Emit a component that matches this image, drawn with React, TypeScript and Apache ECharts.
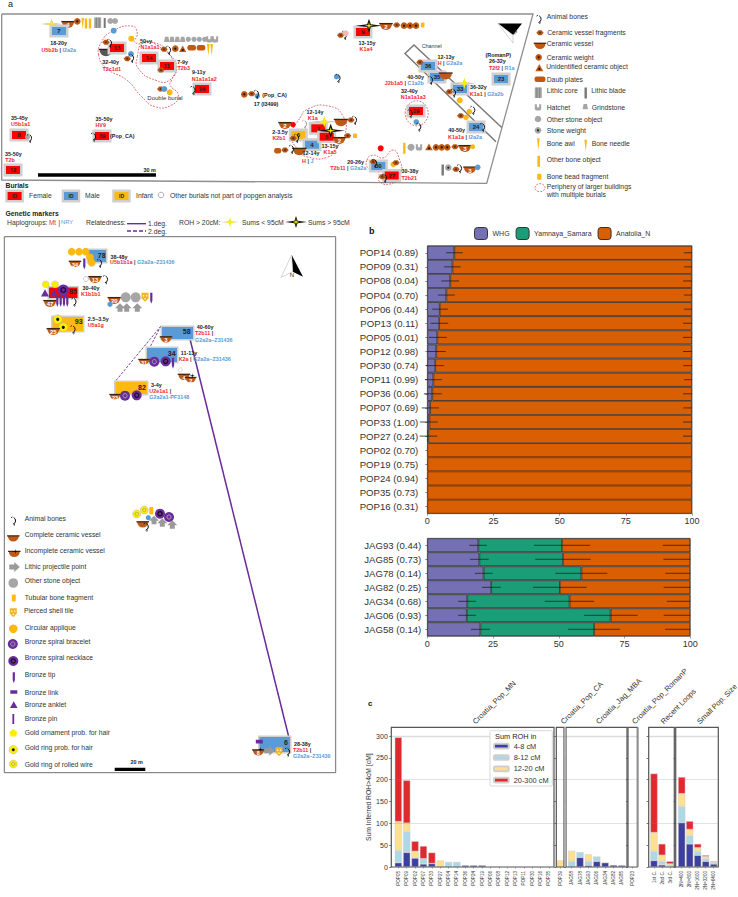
import React, { useEffect, useRef } from "react";
import * as echarts from "echarts";

const FONT = "'Liberation Sans', Arial, sans-serif";

// ---- panel b data ----
const popLabels = ["POP14 (0.89)", "POP09 (0.31)", "POP08 (0.04)", "POP04 (0.70)", "POP06 (0.44)", "POP13 (0.11)", "POP05 (0.01)", "POP12 (0.98)", "POP30 (0.74)", "POP11 (0.99)", "POP36 (0.06)", "POP07 (0.69)", "POP33 (1.00)", "POP27 (0.24)", "POP02 (0.70)", "POP19 (0.75)", "POP24 (0.94)", "POP35 (0.73)", "POP16 (0.31)"];
const popWhg = [10.2, 9.5, 8.7, 7.2, 4.7, 4.5, 3.8, 3.4, 3.0, 2.3, 1.9, 1.1, 0.8, 0.4, 0, 0, 0, 0, 0];
const popWhgLow = [7.1, 6.3, 5.3, 4.0, 1.8, 1.2, 0.6, 0.1, -0.5, -0.9, -1.3, -2.1, -2.8, -2.9];
const popWhgHigh = [13.4, 12.6, 12.0, 10.4, 7.8, 7.9, 7.4, 7.0, 6.3, 5.5, 5.5, 4.4, 4.0, 3.8];
const popAnaLow = [97.0, 97.0, 96.6, 97.0, 97.0, 96.6, 96.6, 96.6, 96.7, 97.0, 96.6, 96.7, 96.6, 96.6];
const jagLabels = ["JAG93 (0.44)", "JAG85 (0.73)", "JAG78 (0.14)", "JAG82 (0.25)", "JAG34 (0.68)", "JAG06 (0.93)", "JAG58 (0.14)"];
const jagWhg = [19.4, 19.8, 21.4, 24.3, 15.2, 15.0, 20.2];
const jagYam = [31.8, 31.8, 37.2, 26.1, 38.9, 54.7, 43.2];
const jagWhgLow = [16.0, 16.2, 18.1, 20.8, 11.7, 11.7, 16.6];
const jagWhgHigh = [22.6, 23.3, 24.9, 27.9, 18.5, 18.5, 23.8];
const jagYamLow = [40.6, 41.1, 48.7, 40.2, 44.7, 59.6, 53.5];
const jagYamHigh = [61.9, 62.1, 68.4, 60.6, 63.4, 80.0, 73.3];
const jagAnaLow = [89.5, 89.8, 90.5, 89.9, 91.1, 89.9, 90.4];

// ---- panel c data ----
const rohLabels = ["POP05", "POP09", "POP02", "POP07", "POP33", "POP27", "POP04", "POP14", "POP36", "POP24", "POP19", "POP06", "POP08", "POP12", "POP13", "POP11", "POP30", "POP16", "POP35", "POP39", "JAG58", "JAG78", "JAG93", "JAG06", "JAG34", "JAG82", "JAG85", "POP23", "1st C.", "2nd C.", "3rd C.", "2N=400", "2N=800", "2N=1600", "2N=3200", "2N=6400"];
const roh4to8 = [10, 33.5, 20.5, 7, 8, 0, 0, 0, 4, 4, 4, 0, 0, 0, 0, 0, 0, 0, 0, 0, 0, 22, 4, 13, 10, 4.5, 4, 0, 15, 5, 1.5, 102, 53, 27, 13, 7];
const roh8to12 = [28, 48, 0, 12, 0, 0, 11.5, 11.5, 0, 0, 0, 0, 0, 0, 0, 0, 0, 0, 0, 0, 13, 12, 9, 11, 0, 0, 0, 0, 21, 8, 2.5, 37, 19, 9, 6, 3];
const roh12to20 = [66, 19, 15.5, 0, 0, 15, 0, 0, 0, 0, 0, 0, 0, 0, 0, 0, 0, 0, 0, 15, 24, 0, 16, 0, 0, 0, 0, 0, 43, 14, 3, 29, 14, 8, 5, 1.5];
const roh20to300 = [193, 98, 23, 29, 25, 0, 0, 0, 0, 0, 0, 0, 0, 0, 0, 0, 0, 0, 0, 0, 0, 0, 0, 0, 0, 0, 0, 0, 135, 26, 6, 38, 19, 9, 3, 1.5];
const rohPanelSizes = [19, 1, 7, 1, 3, 5];
const rohRefLines = [100, 200, 300];
const rohTicks = [0, 50, 100, 150, 200, 250, 300];
const rohSeriesNames = ["4-8 cM", "8-12 cM", "12-20 cM", "20-300 cM"];
const ancestryNames = ["WHG", "Yamnaya_Samara", "Anatolia_N"];
const groupLabels = ["Croatia_Pop_MN", "Croatia_Pop_CA", "Croatia_Jag_MBA", "Croatia_Pop_RomanP", "Recent Loops", "Small Pop. Size"];

const PURPLE = "#7570b3", GREEN = "#1b9e77", ORANGE = "#d95f02";
const ROH_COLORS = ["#3c3f9f", "#add8e6", "#fee08f", "#e1282d"];

// ---- pictograms for the site maps ----
const RED = "#ff0000", BLUE = "#5b9bd5", GOLD = "#fdb913", BROWN = "#bf5a16", DARK = "#222222", GREY = "#a6a6a6", VIOLET = "#6a2c9c";
const LRED = "#f0282d", LBLUE = "#5b9bd5";
const gfx: any[] = [];
const add = (e: any) => { e.silent = true; e.z = 20; gfx.push(e); };
const T = (x: number, y: number, text: string, size = 6.8, color = "#333", weight = "normal", align = "left") =>
  add({ type: "text", x, y, style: { text, fontSize: size, fill: color, fontWeight: weight, fontFamily: FONT, align, verticalAlign: "middle" } });
const RT = (x: number, y: number, text: string, align = "center") =>
  add({ type: "text", x, y, style: { text, fontSize: 5.4, fill: "#333", fontWeight: "bold", fontFamily: FONT, align, verticalAlign: "middle",
    rich: { r: { fill: LRED, fontSize: 5.4, fontWeight: "bold", fontFamily: FONT }, b: { fill: LBLUE, fontSize: 5.4, fontWeight: "bold", fontFamily: FONT } } } });
const age = (x: number, y: number, s: string, align = "center") => T(x, y, s, 5.4, "#222", "bold", align);
const R = (x: number, y: number, w: number, h: number, fill: string, r = 0) =>
  add({ type: "rect", shape: { x: x - w / 2, y: y - h / 2, width: w, height: h, r }, style: { fill } });
const C = (x: number, y: number, r: number, fill: string, stroke?: string, lw = 0.7) =>
  add({ type: "circle", shape: { cx: x, cy: y, r }, style: { fill, stroke, lineWidth: stroke ? lw : 0 } });
const PG = (pts: number[][], fill: string) => add({ type: "polygon", shape: { points: pts }, style: { fill } });
const L = (x1: number, y1: number, x2: number, y2: number, stroke: string, lineWidth = 1, lineDash?: number[]) =>
  add({ type: "line", shape: { x1, y1, x2, y2 }, style: { stroke, lineWidth, lineDash } });
const burial = (x: number, y: number, fill: string, id: string, w = 14, h = 8) => {
  R(x, y, w + 5, h + 5, "#cfcfcf");
  R(x, y, w, h, fill);
  T(x, y + 0.3, id, 6, "#222", "bold", "center");
};
const wide = (x0: number, y0: number, x1: number, y1: number, fill: string, id: string, tx: number, ty: number) => {
  R((x0 + x1) / 2, (y0 + y1) / 2, x1 - x0 + 3, y1 - y0 + 3, "#cfcfcf");
  R((x0 + x1) / 2, (y0 + y1) / 2, x1 - x0, y1 - y0, fill);
  T(tx, ty, id, 7, "#222", "bold", "center");
};
const bones = (x: number, y: number, color = "#111") => {
  add({ type: "arc", shape: { cx: x - 2, cy: y, r: 3.6, startAngle: -1.1, endAngle: 1.3, clockwise: true }, style: { stroke: color, lineWidth: 1, fill: "none" } });
  L(x + 0.6, y + 3, x + 0.2, y + 5, color, 0.8);
  L(x - 1.5, y - 3.8, x - 3, y - 2.8, color, 0.8);
};
const frag = (x: number, y: number) => {
  PG([[x - 3.7, y], [x - 1.5, y - 2.5], [x + 1.5, y - 2.5], [x + 3.7, y], [x + 1.5, y + 2.5], [x - 1.5, y + 2.5]], "#b5561c");
  C(x, y, 1, "#5b3010");
};
const weight = (x: number, y: number, r = 3.3) => { C(x, y, r, BROWN); C(x, y, 1.1, "#221107"); };
const vessel = (x: number, y: number, r: number, label = "", rim = "#3a2412", body = BROWN) => {
  add({ type: "sector", shape: { cx: x, cy: y - r * 0.35, r, r0: 0, startAngle: 0, endAngle: Math.PI, clockwise: true }, style: { fill: body } });
  R(x, y - r * 0.4, r * 2 + 1.5, 1.3, rim);
  if (label) T(x, y + r * 0.2, label, Math.max(5.5, r), "#fff", "bold", "center");
};
const tri = (x: number, y: number, s: number, fill: string, dot = false) => {
  PG([[x, y - s], [x + s, y + s * 0.8], [x - s, y + s * 0.8]], fill);
  if (dot) C(x, y + 1, 1, "#221107");
};
const daub = (x: number, y: number, w = 8.5) => R(x, y, w, 5.5, BROWN, 2.2);
const bar = (x: number, y: number, w: number, h: number, c: string) => R(x, y, w, h, c);
const awl = (x: number, y: number, h = 12) => PG([[x - 1.3, y - h / 2], [x + 1.3, y - h / 2], [x, y + h / 2]], GOLD);
const hatchet = (x: number, y: number) => PG([[x - 1.7, y - 2.6], [x + 1.7, y - 2.6], [x + 2.7, y + 2.6], [x - 2.7, y + 2.6]], GREY);
const uShape = (x: number, y: number) => {
  PG([[x - 3.2, y - 3], [x - 1.2, y - 3], [x - 1, y], [x + 1, y], [x + 1.2, y - 3], [x + 3.2, y - 3], [x + 3.2, y + 2], [x + 2, y + 3.3], [x - 2, y + 3.3], [x - 3.2, y + 2]], GREY);
};
const core = (x: number, y: number, w = 7, h = 10.5) => {
  R(x, y, w, h, GREY);
  L(x - w / 5, y - h / 2, x - w / 5, y + h / 2, "#777", 0.8);
  L(x + w / 5, y - h / 2, x + w / 5, y + h / 2, "#777", 0.8);
};
const stoneWeight = (x: number, y: number) => { C(x, y, 3.3, GREY); C(x, y, 1.1, "#222"); };
const necklace = (x: number, y: number, r = 5) => { C(x, y, r, VIOLET); C(x, y, r * 0.42, "none", "#111", 1.2); };
const bracelet = (x: number, y: number, r = 5) => { C(x, y, r, VIOLET); C(x, y, r * 0.42, "none", "#aaa", 0.9); };
const goldBlack = (x: number, y: number, r = 4.2) => { C(x, y, r, "#ffee00", "#aaa", 0.4); C(x, y, r * 0.35, "#111"); };
const goldRing = (x: number, y: number, r = 4) => { C(x, y, r, "#ffee00", "#aaa", 0.4); C(x, y, r * 0.42, "none", "#9a9a9a", 0.8); };
const arrowUp = (x: number, y: number) => PG([[x, y - 5], [x + 5, y], [x + 2.5, y], [x + 2.5, y + 3.5], [x - 2.5, y + 3.5], [x - 2.5, y], [x - 5, y]], "#9a9a9a");
const arrowRight = (x: number, y: number) => PG([[x + 5.5, y], [x, y - 5], [x, y - 2.5], [x - 5, y - 2.5], [x - 5, y + 2.5], [x, y + 2.5], [x, y + 5]], "#9a9a9a");
const tile = (x: number, y: number, w = 7, h = 9) => {
  PG([[x - w / 2, y - h / 2], [x + w / 2, y - h / 2], [x + w / 2, y + h * 0.1], [x, y + h / 2], [x - w / 2, y + h * 0.1]], "#f3b32a");
  C(x - 1.5, y - 1.5, 0.7, "#fff"); C(x + 1.5, y - 1.5, 0.7, "#fff"); C(x, y + 1.5, 0.7, "#fff");
};
const purpleTip = (x: number, y: number, h = 11, w = 2.2) => PG([[x - w / 2, y - h / 2], [x + w / 2, y - h / 2], [x + w / 2, y + h * 0.2], [x, y + h / 2], [x - w / 2, y + h * 0.2]], VIOLET);
const star = (x: number, y: number, rx: number, ry: number, fill: string) => {
  const kx = rx * 0.14, ky = ry * 0.2;
  PG([[x - rx, y], [x - kx, y - ky], [x, y - ry], [x + kx, y - ky], [x + rx, y], [x + kx, y + ky], [x, y + ry], [x - kx, y + ky]], fill);
};
const yStar = (x: number, y: number, rx = 10) => { star(x, y, rx * 1.1, 4.5, "#b9b9b9"); star(x, y, rx * 0.6, 6, "#ffee00"); };
const kStar = (x: number, y: number, rx = 10) => { star(x, y, rx * 1.1, 7, "#111"); star(x, y, rx * 0.35, 3.6, "#ffee00"); };
const blob = (pts: number[][], sm = 0.55) =>
  add({ type: "polygon", shape: { points: pts, smooth: sm }, style: { fill: "none", stroke: "#d2323c", lineWidth: 0.7, lineDash: [1.8, 1.3] } });
const z1 = (a: number[][]) => a.map(([x, y]) => [x / 3, y / 3]);

const buildGraphics = () => {
  // ---------- panel a ----------
  T(8, 4, "a", 9, "#222");
  add({ type: "polyline", shape: { points: [[1.7, 14], [533, 14], [486.7, 183.3], [1.7, 180], [1.7, 14]] }, style: { stroke: "#8e8e8e", lineWidth: 1.3, fill: "none" } });
  // channel
  add({ type: "polyline", shape: { points: [[496, 141.7], [405, 53.5], [414, 45], [501.7, 127.5]] }, style: { stroke: "#777", lineWidth: 1.4, fill: "none" } });
  // peripheries
  blob(z1([[296, 165], [305, 125], [335, 95], [395, 78], [412, 100], [405, 128], [470, 130], [510, 165], [530, 200], [515, 240], [510, 255], [535, 285], [515, 315], [465, 320], [425, 290], [380, 240], [320, 205]]));
  blob(z1([[412, 170], [430, 128], [470, 135], [525, 195], [510, 240], [465, 240], [415, 205]]));
  blob([[300, 118], [308, 109], [328, 106], [343, 116], [345, 135], [337, 147], [328, 157], [308, 157], [298, 150], [292, 135]]);
  blob([[367, 160], [373, 155], [383, 158], [393, 150], [399, 158], [401, 173], [393, 183], [380, 182], [378, 172], [368, 168]]);
  add({ type: "ellipse", shape: { cx: 416.7, cy: 113.3, rx: 11.5, ry: 12.5 }, style: { fill: "none", stroke: "#d2323c", lineWidth: 0.7, lineDash: [1.8, 1.3] } });

  // top-left group, burial 7
  yStar(51.7, 24);
  vessel(68, 24, 6, "4");
  weight(77.3, 21.3);
  awl(82.7, 23.5, 11); R(86, 23.5, 2.4, 10, GOLD); R(90, 23.5, 2.4, 10, GOLD);
  core(97.7, 22.7); bar(104.7, 23, 2, 10, "#777");
  C(110.3, 21, 3, GREY); C(115, 21, 3, GREY);
  burial(59, 31, BLUE, "7");
  age(58.7, 43, "18-20y"); RT(58.7, 49.7, "{r|U5b2b} | {b|I2a2a}");
  // burial 13 area
  C(113.7, 30.7, 3, BLUE); C(131.3, 38.7, 3, GOLD);
  vessel(106, 52, 6.5, "", "#222", "#555");
  burial(117, 48, RED, "13");
  frag(106, 42.3); bones(110, 43);
  C(131, 54, 3, BLUE); frag(127.3, 58.7); bones(132, 58);
  age(110.7, 62.3, "32-40y"); RT(111.7, 68.7, "{r|T2c1d1}");
  // burials 14, 11
  burial(149, 58, RED, "14"); burial(167, 66, RED, "11");
  frag(161, 70);
  age(146, 41, "50+y"); RT(150, 47, "{r|N1a1a1}");
  age(182.7, 61.7, "7-9y"); RT(183.7, 68, "{r|T2b3}");
  frag(164, 49.3); bones(169, 50); weight(175.3, 48.7); tri(182.7, 49, 3.6, BROWN, true); daub(191.7, 47.7); daub(201, 47.7);
  [166.7, 172, 177.3, 182.7].forEach((x) => hatchet(x, 39.3));
  [188.3, 194, 199.3, 204.7].forEach((x) => C(x, 39.3, 2.6, GREY));
  [209.3, 215].forEach((x) => uShape(x, 39.3));
  awl(208.3, 50); awl(211.7, 50);
  // double burial
  frag(160.7, 89); C(164.3, 89, 3, BLUE); C(169.7, 92.3, 3, GOLD);
  T(165, 98, "Double burial", 6, "#333", "normal", "center");
  // burial 16
  burial(202, 89, RED, "16"); bones(193.5, 90);
  age(198.7, 72.3, "9-11y"); RT(204.3, 78.7, "{r|N1a1a1a2}");
  // burial 9
  frag(340.7, 35.3); bones(345, 35); C(345.7, 33.3, 3, "#f4b8b0");
  burial(363, 32, RED, "9"); kStar(369, 25.7, 12);
  age(367, 42.5, "13-15y"); RT(366, 48.5, "{r|K1a4}");
  vessel(386, 26, 6, "2"); frag(396.7, 25); weight(404, 25.7); weight(410, 25.7); weight(416, 25.7); R(422.7, 25, 3.6, 5, GOLD, 1);
  C(336.7, 76.7, 2.8, BLUE); bones(338.5, 78);
  // Pop_CA
  weight(244.3, 94.3); frag(251.7, 93.7); C(257.3, 96, 2.7, BLUE); bones(257, 94);
  T(262.3, 95.3, "(Pop_CA)", 5.4, "#222", "bold"); age(266, 104, "17 (I3499)");
  // left burials
  burial(19, 135, RED, "8"); C(27.5, 137, 2.5, GREY); bones(30, 138);
  age(19.3, 117.7, "35-45y"); RT(20.7, 124, "{r|U5b1a1}");
  burial(102, 136, RED, "39"); bones(94, 136.7);
  T(110, 136, "(Pop_CA)", 5.4, "#222", "bold");
  age(104, 119.3, "35-50y"); RT(100.7, 125, "{r|HV9}");
  burial(13, 170, RED, "12"); age(13.3, 153.7, "35-50y"); RT(10, 160, "{r|T2b}");
  // scale
  R(97, 175, 118, 3.4, "#000"); T(149.7, 170, "30 m", 5.4, "#222", "bold", "center");
  // central building
  vessel(285, 125, 6, "2"); C(293, 124.7, 2.7, RED); bones(305, 124, "#999");
  vessel(341, 122, 6.5); frag(351, 120); bones(355, 120);
  burial(318.3, 128.3, RED, "7"); yStar(324.3, 121.7, 12);
  burial(298.3, 135, GOLD, "6"); frag(293.3, 138.3); bones(297, 138);
  burial(312, 144.7, BLUE, "4");
  burial(326.7, 136.7, RED, "5"); kStar(330.7, 130.7, 13);
  vessel(339.3, 140, 6, "2"); frag(347.7, 135.7); R(355, 135.7, 4, 4.5, GOLD, 1);
  daub(277.7, 150.7, 7); frag(285, 150); vessel(299.3, 151, 6.5); bones(292, 149);
  age(315, 111.7, "12-14y"); RT(312.7, 117.7, "{r|K1a}");
  age(280, 131.7, "2-3.5y"); RT(279, 137.7, "{r|K2b1}");
  age(330, 146, "13-15y"); RT(330, 152, "{r|K1a5}");
  age(311, 153.3, "12-14y"); RT(307.7, 160.7, "{r|H} | {b|J}");
  age(355.7, 162, "20-26y"); RT(348.3, 168, "{r|T2b11} | {b|G2a2a}");
  // burials 30, 27
  C(380.7, 148.3, 3, RED);
  burial(378.3, 166, BLUE, "30"); frag(373.3, 161.7); bones(375, 163);
  burial(391.7, 175.5, RED, "27"); frag(382.3, 176.7); bones(385, 178);
  C(393.3, 164.3, 2.8, GOLD); frag(396, 162.7);
  age(410, 171.3, "30-38y"); RT(409.3, 177.7, "{r|T2b21}");
  // rows at right
  R(404.3, 148.3, 2.4, 11, GOLD); C(411, 147.3, 3.5, GREY); uShape(419, 147.3); tri(429, 147.3, 3.8, BROWN, true);
  weight(436, 147.3); weight(441.7, 147.3); weight(447.3, 147.3); frag(455, 146.7); vessel(465, 148, 6, "3"); C(472.7, 146.7, 2.5, GOLD);
  bar(442.7, 170, 2.4, 11, "#777"); stoneWeight(448.3, 167.7); frag(456, 169.3); bones(460, 168.3); vessel(470, 169.5, 6, "3"); C(477.7, 167.3, 2.8, BLUE);
  // channel group
  T(421.7, 46.3, "Channel", 5.4, "#333");
  burial(428, 66, BLUE, "36"); frag(420, 62.3);
  burial(437, 77, BLUE, "35"); bones(431, 80); vessel(445.7, 75.5, 6.2);
  burial(460, 89, BLUE, "33"); yStar(464.3, 83.3, 11); frag(449.3, 91.7); bones(454, 92.7);
  C(459.7, 100.3, 3, GOLD); C(469.3, 111.7, 2.8, GOLD); bones(473.3, 110); frag(460.7, 115.7); C(466, 117.3, 2.8, GOLD);
  burial(476, 127, BLUE, "24"); bones(483, 127);
  burial(501, 79, BLUE, "23");
  burial(416, 111, RED, "19"); bones(410.7, 113.3); C(416.3, 122, 2.8, BLUE); bones(419.3, 126.7);
  age(446, 57, "12-13y"); RT(450, 63, "{r|H} | {b|G2a2a}");
  age(415.7, 76.7, "40-50y"); RT(404.3, 83.3, "{r|J2b1a5} | {b|C1a2b}");
  age(409.3, 91, "32-40y"); RT(413.3, 97.3, "{r|N1a1a1a3}");
  age(478.3, 87.3, "36-32y"); RT(486.7, 93.7, "{r|K1a1} | {b|G2a2b}");
  age(498.3, 55.3, "(RomanP)"); age(497.3, 61.3, "26-32y"); RT(501.7, 67.7, "{r|T2f2} | {b|R1a}");
  age(456.7, 130.3, "40-50y"); RT(465, 137, "{r|K1a1a} | {b|I2a2a}");
  // north arrow a
  PG([[498, 23.5], [522, 23.5], [513, 35]], "#000");
  add({ type: "polygon", shape: { points: [[498, 23.5], [513, 43], [513, 35]] }, style: { fill: "#fff", stroke: "#aaa", lineWidth: 0.5 } });
  add({ type: "text", x: 515, y: 32, rotation: -2.3, style: { text: "N", fontSize: 5.5, fill: "#222", fontFamily: FONT, align: "center", verticalAlign: "middle" } });
  // legend of panel a, right
  const rx = 546.7;
  bones(539.5, 19); T(rx, 16.3, "Animal bones");
  frag(540, 32.7); T(rx + 0.5, 32.7, "Ceramic vessel fragments");
  vessel(540, 45.5, 5.5); T(rx, 43, "Ceramic vessel");
  weight(538.7, 57.3); T(rx, 57, "Ceramic weight");
  tri(539.3, 68, 4, BROWN, true); T(rx - 0.5, 66.7, "Unidentified ceramic object");
  daub(540, 79.3, 11); T(rx, 79, "Daub plates");
  core(538.3, 92.7); T(rx, 90, "Lithic core"); bar(585.7, 93, 2.4, 11, "#777"); T(591.3, 90, "Lithic blade");
  uShape(538, 107.3); T(rx, 107, "Hatchet"); hatchet(585.3, 106.7); T(591.7, 107, "Grindstone");
  C(538, 119, 3.3, GREY); T(rx, 119, "Other stone object");
  stoneWeight(538, 130.3); T(rx, 130.7, "Stone weight");
  awl(538.3, 144.3); T(rx, 143.7, "Bone awl"); awl(585.7, 145.7); T(591.7, 143.7, "Bone needle");
  R(538.7, 161.3, 2.6, 11, GOLD); T(rx, 159, "Other bone object");
  R(539.3, 176.7, 4.2, 6, GOLD, 1); T(rx, 176, "Bone bead fragment");
  add({ type: "ellipse", shape: { cx: 540, cy: 187.7, rx: 5, ry: 4 }, style: { fill: "none", stroke: "#d2323c", lineWidth: 0.7, lineDash: [1.8, 1.3] } });
  T(rx, 186.7, "Periphery of larger buildings"); T(rx, 194.7, "with multiple burials");
  // legend of panel a, bottom
  T(5.5, 185.5, "Burials", 6.8, "#222", "bold");
  const key = (x: number, fill: string) => { R(x, 196, 18.5, 13, "#cfcfcf"); R(x, 196, 14, 8, fill); T(x, 196.3, "ID", 5, "#222", "bold", "center"); };
  key(14.6, RED); T(29, 195, "Female");
  key(71, BLUE); T(85, 195, "Male");
  key(121.5, GOLD); T(136, 195, "Infant");
  C(161, 195, 2.8, "#fff", "#777", 0.6); T(170, 195, "Other burials not part of popgen analysis");
  T(5.5, 213, "Genetic markers", 6.8, "#222", "bold");
  T(7, 222, "Haplogroups:"); T(49, 222, "Mt", 6.4, LRED); T(58.5, 222, "|", 6.4, "#333"); T(61, 222, "NRY", 5.8, LBLUE);
  T(86, 222, "Relatedness:");
  L(127, 223.7, 146, 223.7, VIOLET, 1.4); T(148, 223, "1.deg.");
  L(127, 231, 146, 231, VIOLET, 1.4, [4, 2]); T(148, 231, "2.deg.");
  T(179, 222, "ROH > 20cM:");
  star(230, 222, 10, 3, "#b9b9b9"); star(230, 222, 5, 6, "#ffee00"); T(242, 222, "Sums < 95cM");
  star(296, 222, 11, 6, "#111"); star(296, 222, 3.5, 3.4, "#ffee00"); T(308, 222, "Sums > 95cM");

  // ---------- lower left map ----------
  add({ type: "rect", shape: { x: 4.3, y: 236.7, width: 331.4, height: 536 }, style: { fill: "none", stroke: "#6e6e6e", lineWidth: 1 } });
  // burial 78
  wide(88, 250, 106, 262, BLUE, "78", 101.7, 255);
  [71.7, 79, 85.7].forEach((x) => C(x, 251.7, 3.8, GOLD)); C(90, 257.3, 3.8, GOLD); C(91.7, 262.7, 3.8, GOLD);
  vessel(75, 263.5, 5.5, "34"); purpleTip(84.3, 264); bones(100, 263);
  age(119, 256.7, "38-48y"); RT(110, 262, "{r|U5b1b1a} | {b|G2a2a~Z31436}", "left");
  // 13
  C(86, 279, 2.5, "#fff", "#999", 0.5); vessel(95, 279, 6, "13"); bones(106, 279.3);
  // 85
  wide(49, 287.5, 77.5, 298, RED, "85", 73, 291);
  C(45.7, 284.3, 3.5, "#ffee00", "#aaa", 0.3); C(55, 284.3, 3.5, "#ffee00", "#aaa", 0.3); tri(45, 293.3, 4, VIOLET); tri(54, 293.3, 4, VIOLET);
  necklace(63.3, 290, 5.5); vessel(50, 303, 6, "47");
  [57.3, 60.7, 64, 67.3].forEach((x) => purpleTip(x, 301.5));
  bones(74.5, 301.7);
  age(91, 288, "30-40y"); RT(81, 294.3, "{r|K1b1b1}", "left");
  // 20 group
  vessel(114.3, 300, 6, "20"); C(125.7, 297.3, 5, GREY); C(135.7, 297.3, 5, GREY); tile(145, 297.3); purpleTip(151.3, 298.3, 11);
  C(110, 304.3, 2.6, BLUE); arrowUp(120, 308.3); arrowUp(126.7, 308.3); arrowUp(137.3, 308.3);
  // 93
  wide(52.5, 317, 83, 331, GOLD, "93", 78.7, 321.7);
  goldBlack(57.7, 319.3, 4.5); goldBlack(63.3, 327.3, 4.5); vessel(53.3, 331, 6, "25"); bones(73.5, 329.3);
  age(87.7, 319, "2.5–3.5y", "left"); RT(87.7, 325, "{r|U5a1g}", "left");
  // relatedness lines
  L(190, 339, 288.7, 736.7, VIOLET, 1.5);
  L(161, 326, 115, 381.7, VIOLET, 0.9, [2.5, 1.5]);
  L(161, 326, 150, 347, VIOLET, 0.9, [2.5, 1.5]);
  // 58
  wide(162, 327, 193, 339, BLUE, "58", 186.7, 331);
  vessel(166, 339, 5.5, "3");
  age(196.7, 327, "40-60y", "left"); RT(195, 333.3, "{r|T2b11} |", "left"); RT(195, 339.7, "{b|G2a2a~Z31436}", "left");
  // 34
  wide(147, 348, 177, 362, BLUE, "34", 171.7, 353);
  vessel(144, 361.5, 5, "31"); bracelet(154.3, 361.7); necklace(165.7, 361.3); purpleTip(173, 363.3);
  age(180.7, 352.7, "11-13y", "left"); RT(178.7, 359, "{r|K2a} | {b|G2a2a~Z31436}", "left");
  // 4, 2
  C(180.3, 370, 2, "#fff", "#aaa", 0.4); vessel(184, 376.5, 5.5, "4"); vessel(190.7, 379.5, 5, "2");
  star(192.3, 375.7, 2.5, 2.5, "#000");
  // 82
  wide(115.5, 382, 147, 394, GOLD, "82", 142, 387.7);
  vessel(115, 396.5, 5, "23"); bracelet(125, 395.7); necklace(136.7, 395.3);
  age(151, 385, "3-4y", "left"); RT(149.3, 391, "{r|U2e1a1} |", "left"); RT(149.3, 397, "{b|G2a2a1-PF3148}", "left");
  // central cluster
  goldRing(136.7, 514); goldRing(144.3, 510); R(151.3, 510.7, 4, 7.5, GOLD, 1); necklace(160, 513.7); bracelet(169, 517);
  C(148.3, 517.7, 2.6, BLUE); vessel(142.7, 524, 5.5); bones(146.7, 526.7);
  arrowUp(154, 520.7); arrowUp(162.3, 523.3); arrowUp(172.3, 525.3);
  // 6
  wide(259.5, 737, 290, 752, BLUE, "6", 286, 742);
  R(259.3, 741.7, 7, 3.8, VIOLET); vessel(258.3, 752, 5.5, "8"); star(260.5, 749.5, 2.5, 2.5, "#000");
  arrowRight(269.3, 750.7); tile(279, 751.7); bones(288, 751.7);
  age(294, 743.7, "28-38y", "left"); RT(293, 750, "{r|T2b11} |", "left"); RT(293, 755.7, "{b|G2a2a~Z31430}", "left");
  // north arrow
  PG([[291.7, 255], [303, 276.7], [292.7, 271.7]], "#000");
  add({ type: "polygon", shape: { points: [[291.7, 255], [281, 277.3], [292.7, 271.7]] }, style: { fill: "#fff", stroke: "#aaa", lineWidth: 0.5 } });
  T(292, 275, "N", 6, "#222", "normal", "center");
  // scale
  R(130, 769.4, 30.6, 3.4, "#000"); T(136.7, 762, "20 m", 5.4, "#222", "bold", "center");
  // legend lower-left
  const lx = 24.7, ix = 13.3;
  bones(14, 520.7); T(lx, 518.3, "Animal bones");
  vessel(ix, 538, 5.5); T(lx, 534.7, "Complete ceramic vessel");
  vessel(ix + 1, 553.5, 5.5); star(ix + 2, 551.5, 2.4, 2.4, "#000"); T(lx, 550.7, "Incomplete ceramic vessel");
  arrowRight(ix + 1, 567); T(lx, 566.3, "Lithic projectile point");
  C(ix, 583, 4.8, GREY); T(lx, 580.7, "Other stone object");
  R(ix + 0.5, 598, 3.8, 7, GOLD, 0.8); T(lx, 597, "Tubular bone fragment");
  tile(ix, 612.7); T(lx - 0.7, 610.3, "Pierced shell tile");
  C(ix, 628.7, 4.3, GOLD); T(lx, 627.3, "Circular applique");
  bracelet(ix - 0.5, 644); T(lx, 641.3, "Bronze spiral bracelet");
  necklace(ix, 661); T(lx, 657.7, "Bronze spiral necklace");
  purpleTip(ix + 0.5, 677.7, 11); T(lx, 674.3, "Bronze tip");
  R(ix + 0.5, 692, 7, 3.5, VIOLET); T(lx, 692, "Bronze link");
  tri(ix + 0.5, 705, 3.8, VIOLET); T(lx, 704.7, "Bronze anklet");
  R(ix, 719, 1.8, 10, VIOLET); T(lx, 718.7, "Bronze pin");
  PG([[ix, 729], [ix + 4, 732], [ix + 2.6, 736.6], [ix - 2.6, 736.6], [ix - 4, 732]], "#ffee00"); T(lx, 732.7, "Gold ornament prob. for hair");
  goldBlack(ix, 749.7); T(lx, 747.3, "Gold ring prob. for hair");
  goldRing(ix, 764); T(lx, 764.7, "Gold ring of rolled wire");

  // ---------- panel letters and group labels ----------
  T(369, 230.7, "b", 9, "#111", "bold");
  T(368, 703.3, "c", 8, "#111", "bold");
  const gx = [474, 562, 597.3, 633.3, 662, 698.3];
  groupLabels.forEach((s, i) =>
    add({ type: "text", x: gx[i], y: 722.7, rotation: Math.PI / 4, style: { text: s, fontSize: 7.5, fill: "#333", fontFamily: FONT, align: "left", verticalAlign: "middle" } }));
  T(515.7, 736.3, "Sum ROH in", 7.4, "#222", "normal", "center");
  // frames, thick right edges
  const frames = [[391.3, 554], [556.3, 564], [566, 627], [628, 637.3], [648.7, 674.3], [675.7, 718.3]];
  frames.forEach(([a, b]) => add({ type: "rect", shape: { x: a, y: 727.3, width: b - a, height: 139.7 }, style: { fill: "none", stroke: "#555", lineWidth: 1.2 } }));
  L(565, 727.3, 565, 867, "#b0b0b0", 1.6);
  L(638.2, 727.3, 638.2, 867, "#b0b0b0", 1.6);
};
buildGraphics();

const nz = (v: number) => (v === 0 ? null : v);

const buildOption = () => {
  const errSeries = (gridIndex: number, rows: number[][]) => ({
    type: "custom", xAxisIndex: gridIndex, yAxisIndex: gridIndex, silent: true, z: 5, clip: false,
    encode: { x: [0, 1], y: 2 }, data: rows,
    renderItem: (_: any, api: any) => {
      const a = api.coord([api.value(0), api.value(2)]);
      const b = api.coord([api.value(1), api.value(2)]);
      return { type: "line", shape: { x1: a[0], y1: a[1], x2: b[0], y2: b[1] }, style: { stroke: "#222", lineWidth: 0.8 } };
    },
  });
  const stack = (gridIndex: number, name: string, color: string, data: any[], id: string) => ({
    type: "bar", name, stack: id, xAxisIndex: gridIndex, yAxisIndex: gridIndex, barWidth: "100%", data, silent: true,
    itemStyle: { color, borderColor: "#1c1c1c", borderWidth: 0.7 },
  });

  const grids: any[] = [
    { left: 427.3, top: 245.7, width: 264.7, height: 268, show: true, borderColor: "#9a9a9a", borderWidth: 1, backgroundColor: "transparent" },
    { left: 427.3, top: 538.3, width: 263, height: 98, show: true, borderColor: "#9a9a9a", borderWidth: 1, backgroundColor: "transparent" },
  ];
  const valAxis = (gridIndex: number) => ({
    type: "value", gridIndex, min: 0, max: 100, interval: 25,
    axisLine: { show: false }, axisTick: { show: true, length: 2, lineStyle: { color: "#666", width: 0.7 } }, splitLine: { show: false },
    axisLabel: { fontSize: 9, color: "#333", margin: 3, fontFamily: FONT },
  });
  const catAxis = (gridIndex: number, data: string[], offset: number) => ({
    type: "category", gridIndex, inverse: true, data, offset,
    axisLine: { show: false }, axisTick: { show: true, alignWithLabel: true, length: 2, lineStyle: { color: "#555", width: 0.7 } },
    axisLabel: { fontSize: 9.6, color: "#333", margin: 4, interval: 0, fontFamily: FONT },
  });
  const xAxes: any[] = [valAxis(0), valAxis(1)];
  const yAxes: any[] = [catAxis(0, popLabels, 5), catAxis(1, jagLabels, 2)];

  const anatoliaPop = popWhg.map((v) => 100 - v);
  const anatoliaJag = jagWhg.map((v, i) => 100 - v - jagYam[i]);
  const series: any[] = [
    stack(0, "WHG", PURPLE, popWhg.map(nz), "pop"),
    stack(0, "Anatolia_N", ORANGE, anatoliaPop, "pop"),
    errSeries(0, popWhgLow.map((v, i) => [v, popWhgHigh[i], i])),
    errSeries(0, popAnaLow.map((v, i) => [v, 100, i])),
    stack(1, "WHG", PURPLE, jagWhg, "jag"),
    stack(1, "Yamnaya_Samara", GREEN, jagYam, "jag"),
    stack(1, "Anatolia_N", ORANGE, anatoliaJag, "jag"),
    errSeries(1, jagWhgLow.map((v, i) => [v, jagWhgHigh[i], i])),
    errSeries(1, jagYamLow.map((v, i) => [v, jagYamHigh[i], i])),
    errSeries(1, jagAnaLow.map((v, i) => [v, 100, i])),
  ];

  // panel c: frame grids carry ticks and reference lines; bar grids carry the categories
  const frameX = [[391.3, 554], [556.3, 564], [566, 627], [628, 637.3], [648.7, 674.3], [675.7, 718.3]];
  const band = 8.37;
  const barLeft = [394.15, 556.15, 567.5, 628.5, 650, 677.7];
  const bandW = [band, band, band, band, 8, 8];
  let offset = 0;
  rohPanelSizes.forEach((n, p) => {
    const fi = grids.length;
    grids.push({ left: frameX[p][0], top: 727.3, width: frameX[p][1] - frameX[p][0], height: 139.7 });
    xAxes.push({ type: "value", gridIndex: fi, min: 0, max: 1, show: false });
    yAxes.push({
      type: "value", gridIndex: fi, min: 0, max: 320, splitLine: { show: false }, axisLine: { show: false },
      name: p === 0 ? "Sum Inferred ROH>4cM [cM]" : "", nameLocation: "middle", nameGap: 16,
      nameTextStyle: { fontSize: 6.8, color: "#333", fontFamily: FONT },
      axisTick: { show: true, length: 2, customValues: rohTicks, lineStyle: { color: "#333", width: 0.7 } },
      axisLabel: { show: p === 0, customValues: rohTicks, fontSize: 7, color: "#333", margin: 3.5, fontFamily: FONT },
    });
    series.push({
      type: "line", xAxisIndex: fi, yAxisIndex: fi, data: [], silent: true, z: 1,
      markLine: {
        silent: true, symbol: "none", animation: false, label: { show: false },
        data: rohRefLines.map((v) => ({
          yAxis: v,
          lineStyle: v === 300 ? { color: "#dcdcdc", width: 1.4, type: "solid" } : { color: "#8a8a8a", width: 0.5, type: "dotted" },
        })),
      },
    });
    const bi = grids.length;
    grids.push({ left: barLeft[p], top: 727.3, width: n * bandW[p], height: 139.7 });
    xAxes.push({
      type: "category", gridIndex: bi, data: rohLabels.slice(offset, offset + n),
      axisLine: { show: false }, axisTick: { show: true, length: 1.5, alignWithLabel: true, lineStyle: { color: "#555", width: 0.5 } },
      axisLabel: { rotate: 90, interval: 0, fontSize: 4.6, color: "#333", margin: 4, fontFamily: FONT },
    });
    yAxes.push({ type: "value", gridIndex: bi, min: 0, max: 320, show: false, splitLine: { show: false } });
    [roh4to8, roh8to12, roh12to20, roh20to300].forEach((vals, s) => {
      series.push({
        type: "bar", name: rohSeriesNames[s], stack: "roh" + p, xAxisIndex: bi, yAxisIndex: bi, barWidth: 7.2, silent: true, z: 3,
        data: vals.slice(offset, offset + n).map(nz),
        itemStyle: { color: ROH_COLORS[s], borderColor: "#cfcfcf", borderWidth: 0.5 },
      });
    });
    offset += n;
  });

  return {
    animation: false,
    backgroundColor: "#ffffff",
    textStyle: { fontFamily: FONT },
    grid: grids,
    xAxis: xAxes,
    yAxis: yAxes,
    series,
    graphic: { elements: gfx },
    legend: [
      {
        data: ancestryNames, left: 474, top: 227, itemWidth: 13, itemHeight: 12, itemGap: 6, padding: 0, selectedMode: false,
        textStyle: { fontSize: 7, color: "#333", fontFamily: FONT },
        itemStyle: { borderColor: "#333", borderWidth: 1 },
      },
      {
        data: rohSeriesNames, orient: "vertical", left: 490, top: 730.7, itemWidth: 14.7, itemHeight: 4.7, itemGap: 4.3, z: 8,
        padding: [12, 3.7, 2.4, 3], backgroundColor: "#ffffff", borderColor: "#cfcfcf", borderWidth: 0.8, borderRadius: 1, selectedMode: false,
        textStyle: { fontSize: 7.4, color: "#333", fontFamily: FONT },
      },
    ],
  };
};

export default function App() {
  const ref = useRef<HTMLDivElement>(null);
  useEffect(() => {
    const chart = echarts.init(ref.current!, undefined, { renderer: "svg" });
    chart.setOption(buildOption() as any);
    return () => chart.dispose();
  }, []);
  return <div ref={ref} style={{ position: "absolute", left: 0, top: 0, width: 738, height: 897 }} />;
}
